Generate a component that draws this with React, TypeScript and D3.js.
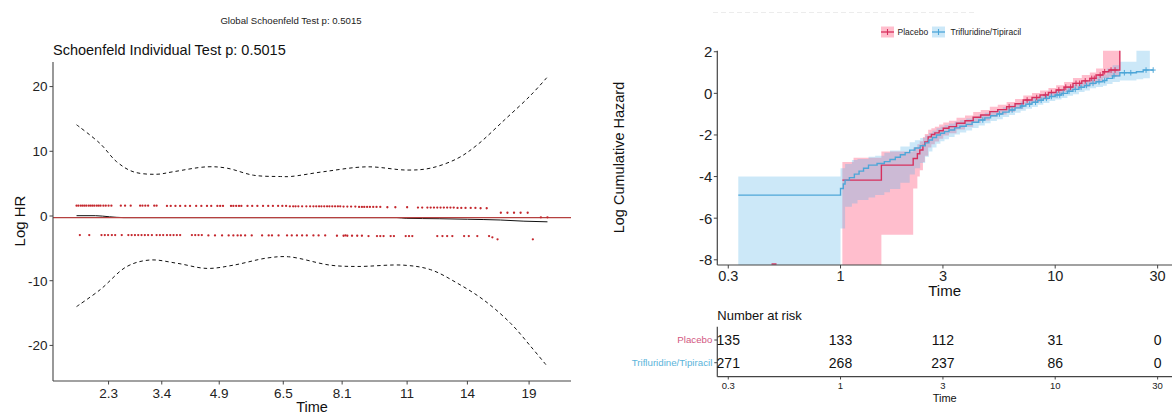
import React from 'react';
import * as d3 from 'd3';

const FONT = "'Liberation Sans', Arial, Helvetica, sans-serif";

// ---------------- Left panel: scaled Schoenfeld residuals ----------------
const globalTitle = 'Global Schoenfeld Test p: 0.5015';
const panelTitle = 'Schoenfeld Individual Test p: 0.5015';
const hrTicks = [-20, -10, 0, 10, 20];
const timeTickLabels = ['2.3', '3.4', '4.9', '6.5', '8.1', '11', '14', '19'];
// positions on the transformed (KM) time axis, 0..100
const timeTickPos = [6.8, 18.1, 30.3, 43.9, 56.4, 70.2, 83.0, 96.1];
const betaEstimate = -0.25;

const residualsUpper: [number, number][] = [
  [0, 1.6], [0.4, 1.6], [0.9, 1.6], [1.3, 1.6], [1.7, 1.6], [2.1, 1.6], [2.6, 1.6], [3.0, 1.6], [3.4, 1.6],
  [3.8, 1.6], [4.3, 1.6], [4.7, 1.6], [5.1, 1.6], [5.7, 1.6], [6.2, 1.6], [6.8, 1.6], [7.4, 1.6], [9.4, 1.6],
  [10.3, 1.6], [11.5, 1.6], [13.5, 1.6], [14.0, 1.6], [14.6, 1.6], [15.2, 1.6], [16.5, 1.6], [17.0, 1.6],
  [19.2, 1.55], [20.0, 1.55], [21.0, 1.55], [22.0, 1.55], [23.1, 1.55], [24.1, 1.55], [25.4, 1.55], [26.5, 1.55],
  [27.7, 1.55], [28.6, 1.55], [29.9, 1.55], [30.5, 1.55], [31.1, 1.55], [32.8, 1.55], [33.3, 1.55], [33.9, 1.55],
  [34.5, 1.55], [35.0, 1.55], [36.3, 1.55], [37.3, 1.55], [38.4, 1.55], [39.6, 1.55], [40.7, 1.55], [41.7, 1.55],
  [42.8, 1.55], [43.7, 1.55], [44.5, 1.55], [45.3, 1.5], [46.0, 1.5], [46.5, 1.5], [47.1, 1.5], [47.9, 1.5],
  [48.8, 1.5], [49.6, 1.5], [50.3, 1.5], [50.9, 1.5], [51.5, 1.5], [52.0, 1.5], [52.6, 1.5], [53.2, 1.5],
  [53.7, 1.5], [54.3, 1.5], [54.9, 1.5], [55.5, 1.5], [56.0, 1.5], [56.7, 1.45], [57.5, 1.45], [58.3, 1.45],
  [59.2, 1.45], [60.0, 1.4], [60.6, 1.4], [61.1, 1.4], [61.7, 1.4], [62.3, 1.4], [63.0, 1.4], [63.7, 1.4],
  [64.5, 1.4], [66.0, 1.35], [67.7, 1.35], [70.2, 1.35], [72.5, 1.3], [73.4, 1.3], [74.5, 1.3], [75.2, 1.3],
  [75.9, 1.3], [76.6, 1.3], [77.3, 1.3], [78.0, 1.3], [78.7, 1.3], [79.4, 1.3], [80.1, 1.3], [80.9, 1.25],
  [81.7, 1.25], [82.6, 1.25], [83.7, 1.25], [84.7, 1.25], [85.8, 1.2], [87.1, 1.2],
];
const residualsLower: [number, number][] = [
  [0.7, -2.95], [2.7, -2.95], [5.3, -2.95], [6.0, -2.95], [6.7, -2.95], [7.5, -2.95], [8.2, -2.95], [9.6, -2.95],
  [11.0, -2.95], [11.7, -2.95], [12.4, -2.95], [13.1, -2.95], [13.8, -2.95], [14.5, -2.95], [15.2, -2.95],
  [16.0, -2.95], [17.0, -2.95], [17.7, -2.95], [18.4, -2.95], [19.2, -2.95], [19.9, -2.95], [20.6, -2.95],
  [21.3, -2.95], [22.0, -2.95], [24.5, -2.95], [25.2, -2.95], [25.9, -2.95], [26.6, -2.95], [28.0, -3.0],
  [29.4, -3.0], [30.9, -3.0], [32.3, -3.0], [33.3, -3.0], [34.2, -3.0], [34.9, -3.0], [35.8, -3.0], [37.2, -3.0],
  [39.4, -3.0], [40.8, -3.0], [41.5, -3.0], [42.9, -3.0], [44.7, -3.0], [45.7, -3.0], [46.8, -3.0], [47.9, -3.0],
  [48.9, -3.0], [50.3, -3.0], [51.4, -3.0], [52.8, -3.0], [55.3, -3.05], [56.7, -3.05], [57.1, -3.0],
  [57.5, -3.05], [58.5, -3.05], [59.6, -3.05], [60.6, -3.05], [62.0, -3.1], [63.8, -3.1], [64.5, -3.1],
  [65.2, -3.1], [66.7, -3.1], [67.4, -3.1], [69.9, -3.1], [70.6, -3.1], [71.3, -3.1], [76.6, -3.1], [77.7, -3.1],
  [78.7, -3.1], [79.8, -3.1], [82.3, -3.1], [83.3, -3.1], [85.1, -3.1], [87.6, -3.1], [88.3, -3.3],
  [89.4, -3.6], [96.9, -3.6],
];
const residualsLate: [number, number][] = [
  [90.1, 0.5], [91.5, 0.5], [92.9, 0.5], [94.3, 0.5], [95.8, 0.5], [98.6, -0.2], [100, -0.2],
];
const betaFit: [number, number][] = [
  [0, 0.05], [4, 0.05], [7, -0.12], [10, -0.25], [68, -0.25], [70, -0.36], [77, -0.42], [83, -0.5],
  [90, -0.62], [95, -0.8], [100, -0.9],
];
const ciUpper: [number, number][] = [
  [0, 14.1], [5.0, 11.2], [8.5, 8.4], [12.0, 6.85], [17.0, 6.45], [20.6, 6.85], [27.7, 7.6], [31.9, 7.4],
  [37.6, 6.3], [43.3, 6.1], [45.4, 6.1], [52.5, 6.85], [61.7, 7.6], [70.2, 7.1], [75.2, 7.4], [80.9, 8.9],
  [85.1, 11.0], [90.8, 14.8], [96.5, 18.7], [100, 21.5],
];
const ciLower: [number, number][] = [
  [0, -14.0], [5.0, -11.4], [10.7, -7.8], [15.6, -6.8], [21.3, -7.3], [27.7, -8.1], [33.3, -7.6], [40.4, -6.5],
  [45.0, -6.3], [53.9, -7.6], [59.6, -7.8], [69.5, -7.6], [75.2, -8.3], [80.9, -10.4], [86.5, -13.0],
  [92.2, -16.6], [96.5, -20.2], [99.7, -23.0],
];

// ---------------- Right panel: log cumulative hazard ----------------
const groupNames = ['Placebo', 'Trifluridine/Tipiracil'];
const lchTicks = [-8, -6, -4, -2, 0, 2];
const logTimeTicks = [0.3, 1, 3, 10, 30];
const logTimeTickLabels = ['0.3', '1', '3', '10', '30'];

const placeboSteps: [number, number][] = [
  [1.02, -4.17], [1.55, -3.45], [2.18, -3.13], [2.28, -2.9], [2.34, -2.72], [2.42, -2.5], [2.47, -2.33],
  [2.56, -2.09], [2.65, -1.98], [2.75, -1.9], [2.88, -1.8], [3.01, -1.68], [3.2, -1.6], [3.47, -1.44],
  [3.8, -1.32], [4.15, -1.15], [4.5, -1.04], [4.96, -0.88], [5.4, -0.78], [5.94, -0.64], [6.5, -0.5],
  [7.1, -0.32], [7.8, -0.2], [8.5, -0.08], [9.3, 0.04], [10.1, 0.16], [11.0, 0.3], [12.1, 0.48], [13.3, 0.6],
  [14.5, 0.72], [15.5, 0.88], [16.7, 1.04], [17.8, 1.12], [20.0, 2.4],
];
const placeboEnd = 20.0;
const placeboBand: [number, number, number][] = [
  [1.02, -9, -3.3], [1.15, -9, -3.1], [1.55, -6.8, -2.8], [2.18, -4.57, -2.6], [2.28, -4.0, -2.45],
  [2.34, -3.69, -2.3], [2.42, -3.3, -2.1], [2.47, -3.0, -1.95], [2.56, -2.6, -1.75], [2.65, -2.45, -1.68],
  [2.75, -2.32, -1.6], [2.88, -2.18, -1.5], [3.01, -2.02, -1.4], [3.2, -1.92, -1.32], [3.47, -1.74, -1.17],
  [3.8, -1.6, -1.06], [4.15, -1.42, -0.9], [4.5, -1.3, -0.8], [4.96, -1.13, -0.64], [5.4, -1.02, -0.55],
  [5.94, -0.88, -0.41], [6.5, -0.74, -0.27], [7.1, -0.55, -0.1], [7.8, -0.43, 0.02], [8.5, -0.31, 0.14],
  [9.3, -0.19, 0.26], [10.1, -0.08, 0.39], [11.0, 0.06, 0.54], [12.1, 0.22, 0.74], [13.3, 0.32, 0.88],
  [14.5, 0.43, 1.0], [15.5, 0.57, 1.2], [16.7, 0.72, 2.4], [17.8, 0.8, 2.4],
];
const placeboCensor = [6.1, 7.4, 8.2, 9.0, 9.6, 10.4, 11.2, 11.8, 12.5, 13.0, 13.8, 14.8, 15.2, 16.2, 17.0, 18.2, 19.0];
const placeboEarlyCensor = 0.49;

const trifSteps: [number, number][] = [
  [0.334, -4.89], [1.0, -4.57], [1.03, -4.36], [1.05, -4.17], [1.1, -4.05], [1.16, -3.88], [1.22, -3.74],
  [1.28, -3.6], [1.35, -3.45], [1.48, -3.37], [1.6, -3.28], [1.7, -3.18], [1.8, -3.07], [1.9, -2.95],
  [2.0, -2.85], [2.1, -2.73], [2.22, -2.63], [2.35, -2.52], [2.48, -2.38], [2.58, -2.24], [2.68, -2.12],
  [2.8, -2.0], [2.92, -1.92], [3.05, -1.84], [3.2, -1.76], [3.4, -1.66], [3.6, -1.58], [3.85, -1.49],
  [4.1, -1.39], [4.4, -1.28], [4.7, -1.18], [5.0, -1.08], [5.35, -0.99], [5.7, -0.9], [6.1, -0.8], [6.5, -0.7],
  [6.9, -0.61], [7.3, -0.52], [7.8, -0.43], [8.3, -0.33], [8.8, -0.24], [9.4, -0.15], [10.0, -0.08],
  [10.7, 0.0], [11.4, 0.1], [12.1, 0.19], [12.9, 0.29], [13.7, 0.38], [14.5, 0.48], [15.5, 0.56], [16.7, 0.62],
  [17.4, 0.72], [18.5, 0.84], [20.0, 0.99], [23.9, 1.04], [25.7, 1.12],
];
const trifEnd = 28.6;
const trifBand: [number, number, number][] = [
  [0.334, -9, -4.0], [1.0, -6.5, -3.6], [1.05, -5.45, -3.4], [1.13, -5.3, -3.2], [1.2, -5.13, -3.15],
  [1.35, -5.0, -3.05], [1.45, -4.89, -3.0], [1.6, -4.75, -2.85], [1.7, -4.6, -2.75], [1.9, -4.3, -2.55],
  [2.1, -3.9, -2.35], [2.22, -3.6, -2.25], [2.35, -3.35, -2.15], [2.48, -3.05, -2.02], [2.58, -2.8, -1.9],
  [2.68, -2.6, -1.8], [2.8, -2.42, -1.68], [2.92, -2.3, -1.6], [3.05, -2.2, -1.52], [3.2, -2.1, -1.45],
  [3.4, -1.98, -1.36], [3.6, -1.88, -1.29], [3.85, -1.78, -1.21], [4.1, -1.67, -1.12], [4.4, -1.55, -1.02],
  [4.7, -1.44, -0.93], [5.0, -1.33, -0.84], [5.35, -1.24, -0.75], [5.7, -1.14, -0.67], [6.1, -1.04, -0.57],
  [6.5, -0.93, -0.48], [6.9, -0.84, -0.39], [7.3, -0.74, -0.3], [7.8, -0.65, -0.21], [8.3, -0.55, -0.11],
  [8.8, -0.46, -0.02], [9.4, -0.37, 0.07], [10.0, -0.3, 0.14], [10.7, -0.22, 0.23], [11.4, -0.12, 0.33],
  [12.1, -0.04, 0.43], [12.9, 0.06, 0.53], [13.7, 0.14, 0.63], [14.5, 0.24, 0.73], [15.5, 0.31, 0.82],
  [16.7, 0.36, 0.9], [17.4, 0.45, 1.2], [18.5, 0.55, 1.35], [20.0, 0.62, 1.52], [23.9, 0.68, 2.4],
  [25.7, 0.72, 2.4],
];
const trifBandEnd = 27.6;
const trifCensor = [4.6, 5.5, 6.3, 7.0, 7.6, 8.1, 8.6, 9.1, 9.6, 10.2, 10.5, 10.9, 11.6, 12.4, 13.2, 14.0, 15.0,
  16.0, 17.0, 18.8, 21.0, 22.5, 26.5, 28.6];

// risk table
const riskTimes = [0.3, 1, 3, 10, 30];
const riskPlacebo = [135, 133, 112, 31, 0];
const riskTrif = [271, 268, 237, 86, 0];

const PLACEBO_LINE = '#D6305E';
const PLACEBO_FILL = '#FF6F91';
const TRIF_LINE = '#4EA6D8';
const TRIF_FILL = '#56B4E9';

function stepValue(steps: [number, number][], t: number) {
  const i = d3.bisectRight(steps.map((d) => d[0]), t) - 1;
  return steps[Math.max(0, i)][1];
}

export default function App() {
  // left scales
  const lx = d3.scaleLinear().domain([-5, 105]).range([53, 571]);
  const ly = d3.scaleLinear().domain([-25.5, 23.8]).range([381, 62]);
  const smooth = d3
    .line<[number, number]>()
    .x((d) => lx(d[0]))
    .y((d) => ly(d[1]))
    .curve(d3.curveCatmullRom.alpha(0.5));
  const fitLine = d3
    .line<[number, number]>()
    .x((d) => lx(d[0]))
    .y((d) => ly(d[1]))
    .curve(d3.curveMonotoneX);

  // right scales
  const rx = d3.scaleLog().domain([0.2667, 35]).range([717.3, 1172]);
  const ry = d3.scaleLinear().domain([-8.25, 2.05]).range([265, 50.7]);
  const stepLine = d3
    .line<[number, number]>()
    .x((d) => rx(d[0]))
    .y((d) => ry(d[1]))
    .curve(d3.curveStepAfter);
  const band = d3
    .area<[number, number, number]>()
    .x((d) => rx(d[0]))
    .y0((d) => ry(d[1]))
    .y1((d) => ry(d[2]))
    .curve(d3.curveStepAfter);

  const placeboLineData: [number, number][] = [...placeboSteps, [placeboEnd, placeboSteps[placeboSteps.length - 1][1]]];
  const trifLineData: [number, number][] = [...trifSteps, [trifEnd, trifSteps[trifSteps.length - 1][1]]];
  const pb = placeboBand[placeboBand.length - 1];
  const placeboBandData: [number, number, number][] = [...placeboBand, [placeboEnd, pb[1], pb[2]]];
  const tb = trifBand[trifBand.length - 1];
  const trifBandData: [number, number, number][] = [...trifBand, [trifBandEnd, tb[1], tb[2]]];

  const [rxMin, rxMax] = rx.range();
  const [ryBot, ryTop] = ry.range();

  const riskRowY = [340, 362.7];

  const censorMark = (t: number, v: number, color: string, key: string) => (
    <g key={key} stroke={color} strokeWidth={1}>
      <line x1={rx(t)} x2={rx(t)} y1={ry(v) - 2.8} y2={ry(v) + 2.8} />
      <line x1={rx(t) - 2.5} x2={rx(t) + 2.5} y1={ry(v)} y2={ry(v)} />
    </g>
  );

  return (
    <svg
      width={1174}
      height={415}
      style={{ position: 'absolute', left: 0, top: 0, background: '#fff' }}
      fontFamily={FONT}
    >
      <rect x={0} y={0} width={1174} height={415} fill="#fff" />
      {/* ================= LEFT PANEL ================= */}
      <text x={291} y={24} fontSize={9.6} textAnchor="middle" fill="#222">
        {globalTitle}
      </text>
      <text x={53} y={55} fontSize={14.5} fill="#111">
        {panelTitle}
      </text>

      {/* dashed confidence curves */}
      <path d={smooth(ciUpper) || ''} fill="none" stroke="#111" strokeWidth={1} strokeDasharray="3.5,3" />
      <path d={smooth(ciLower) || ''} fill="none" stroke="#111" strokeWidth={1} strokeDasharray="3.5,3" />
      {/* fitted beta(t) */}
      <path d={fitLine(betaFit) || ''} fill="none" stroke="#111" strokeWidth={1} />
      {/* coefficient line */}
      <line x1={lx.range()[0]} x2={lx.range()[1]} y1={ly(betaEstimate)} y2={ly(betaEstimate)} stroke="#B5403F" strokeWidth={1.1} />
      {/* residual points */}
      {[...residualsUpper, ...residualsLower, ...residualsLate].map((d, i) => (
        <circle key={'r' + i} cx={lx(d[0])} cy={ly(d[1])} r={1.15} fill="#C4262C" />
      ))}

      {/* axes */}
      <line x1={53} x2={53} y1={ly.range()[1]} y2={ly.range()[0]} stroke="#444" strokeWidth={1.1} />
      <line x1={53} x2={571} y1={381} y2={381} stroke="#444" strokeWidth={1.1} />
      {hrTicks.map((t) => (
        <g key={'hy' + t}>
          <line x1={49.5} x2={53} y1={ly(t)} y2={ly(t)} stroke="#444" />
          <text x={47.5} y={ly(t)} dy="0.36em" fontSize={13.5} textAnchor="end" fill="#222">
            {t}
          </text>
        </g>
      ))}
      {timeTickPos.map((p, i) => (
        <g key={'hx' + i}>
          <line x1={lx(p)} x2={lx(p)} y1={381} y2={384.5} stroke="#444" />
          <text x={lx(p)} y={397.5} fontSize={13.5} textAnchor="middle" fill="#222">
            {timeTickLabels[i]}
          </text>
        </g>
      ))}
      <text x={312} y={412} fontSize={14.5} textAnchor="middle" fill="#111">
        Time
      </text>
      <text transform="translate(24.5,221) rotate(-90)" fontSize={15} textAnchor="middle" fill="#111">
        Log HR
      </text>

      {/* ================= RIGHT PANEL ================= */}
      <line x1={713} x2={975} y1={12.5} y2={12.5} stroke="#ccc" strokeWidth={0.7} strokeDasharray="5,3" opacity={0.5} />

      {/* legend */}
      <g>
        <rect x={881} y={26.5} width={13} height={11} fill={PLACEBO_FILL} fillOpacity={0.45} />
        <line x1={881} x2={894} y1={32} y2={32} stroke={PLACEBO_LINE} strokeWidth={1.3} />
        <line x1={887.5} x2={887.5} y1={29} y2={35} stroke={PLACEBO_LINE} strokeWidth={1.1} />
        <text x={897.5} y={35} fontSize={8.5} fill="#222">
          {groupNames[0]}
        </text>
        <rect x={932} y={26.5} width={13} height={11} fill={TRIF_FILL} fillOpacity={0.3} />
        <line x1={932} x2={945} y1={32} y2={32} stroke={TRIF_LINE} strokeWidth={1.3} />
        <line x1={938.5} x2={938.5} y1={29} y2={35} stroke={TRIF_LINE} strokeWidth={1.1} />
        <text x={950.5} y={35} fontSize={8.5} fill="#222">
          {groupNames[1]}
        </text>
      </g>

      <defs>
        <clipPath id="rclip">
          <rect x={rxMin} y={ryTop} width={rxMax - rxMin} height={ryBot - ryTop} />
        </clipPath>
      </defs>
      <g clipPath="url(#rclip)">
        <path d={band(placeboBandData) || ''} fill={PLACEBO_FILL} fillOpacity={0.45} />
        <path d={band(trifBandData) || ''} fill={TRIF_FILL} fillOpacity={0.3} />
        <line
          x1={rx(placeboEarlyCensor) - 2.5}
          x2={rx(placeboEarlyCensor) + 2.5}
          y1={ryBot - 1}
          y2={ryBot - 1}
          stroke={PLACEBO_LINE}
          strokeWidth={1.4}
        />
        <path d={stepLine(placeboLineData) || ''} fill="none" stroke={PLACEBO_LINE} strokeWidth={1.4} />
        <path d={stepLine(trifLineData) || ''} fill="none" stroke={TRIF_LINE} strokeWidth={1.4} />
        {placeboCensor.map((t, i) => censorMark(t, stepValue(placeboSteps, t), PLACEBO_LINE, 'pc' + i))}
        {trifCensor.map((t, i) => censorMark(t, stepValue(trifSteps, t), TRIF_LINE, 'tc' + i))}
      </g>

      {/* right axes */}
      <line x1={rxMin} x2={rxMin} y1={ryTop} y2={ryBot} stroke="#444" strokeWidth={1.2} />
      <line x1={rxMin} x2={rxMax} y1={ryBot} y2={ryBot} stroke="#444" strokeWidth={1.2} />
      {lchTicks.map((t) => (
        <g key={'ry' + t}>
          <line x1={rxMin - 3.5} x2={rxMin} y1={ry(t)} y2={ry(t)} stroke="#444" />
          <text x={rxMin - 5} y={ry(t)} dy="0.36em" fontSize={15} textAnchor="end" fill="#222">
            {t}
          </text>
        </g>
      ))}
      {logTimeTicks.map((t, i) => (
        <g key={'rx' + i}>
          <line x1={rx(t)} x2={rx(t)} y1={ryBot} y2={ryBot + 3.5} stroke="#444" />
          <text x={rx(t)} y={281} fontSize={14.5} textAnchor="middle" fill="#222">
            {logTimeTickLabels[i]}
          </text>
        </g>
      ))}
      <text x={(rxMin + rxMax) / 2} y={296} fontSize={15} textAnchor="middle" fill="#111">
        Time
      </text>
      <text transform="translate(624,157.5) rotate(-90)" fontSize={14.5} textAnchor="middle" fill="#111">
        Log Cumulative Hazard
      </text>

      {/* risk table */}
      <text x={rxMin} y={320} fontSize={13} fill="#111">
        Number at risk
      </text>
      <line x1={rxMin} x2={rxMin} y1={326.7} y2={376.7} stroke="#444" strokeWidth={1.2} />
      <line x1={rxMin} x2={rxMax} y1={376.7} y2={376.7} stroke="#444" strokeWidth={1.2} />
      {[riskPlacebo, riskTrif].map((row, r) => (
        <g key={'row' + r}>
          <line x1={rxMin - 3} x2={rxMin} y1={riskRowY[r]} y2={riskRowY[r]} stroke="#444" />
          <text
            x={rxMin - 5}
            y={riskRowY[r]}
            dy="0.36em"
            fontSize={9.7}
            textAnchor="end"
            fill={r === 0 ? '#D2577F' : '#5BB4DA'}
          >
            {groupNames[r]}
          </text>
          {row.map((n, i) => (
            <text key={i} x={rx(riskTimes[i])} y={riskRowY[r]} dy="0.36em" fontSize={14} textAnchor="middle" fill="#111">
              {n}
            </text>
          ))}
        </g>
      ))}
      {logTimeTicks.map((t, i) => (
        <g key={'tx' + i}>
          <line x1={rx(t)} x2={rx(t)} y1={376.7} y2={379.5} stroke="#444" />
          <text x={rx(t)} y={389} fontSize={9.5} textAnchor="middle" fill="#222">
            {logTimeTickLabels[i]}
          </text>
        </g>
      ))}
      <text x={(rxMin + rxMax) / 2} y={402} fontSize={11} textAnchor="middle" fill="#111">
        Time
      </text>
    </svg>
  );
}
